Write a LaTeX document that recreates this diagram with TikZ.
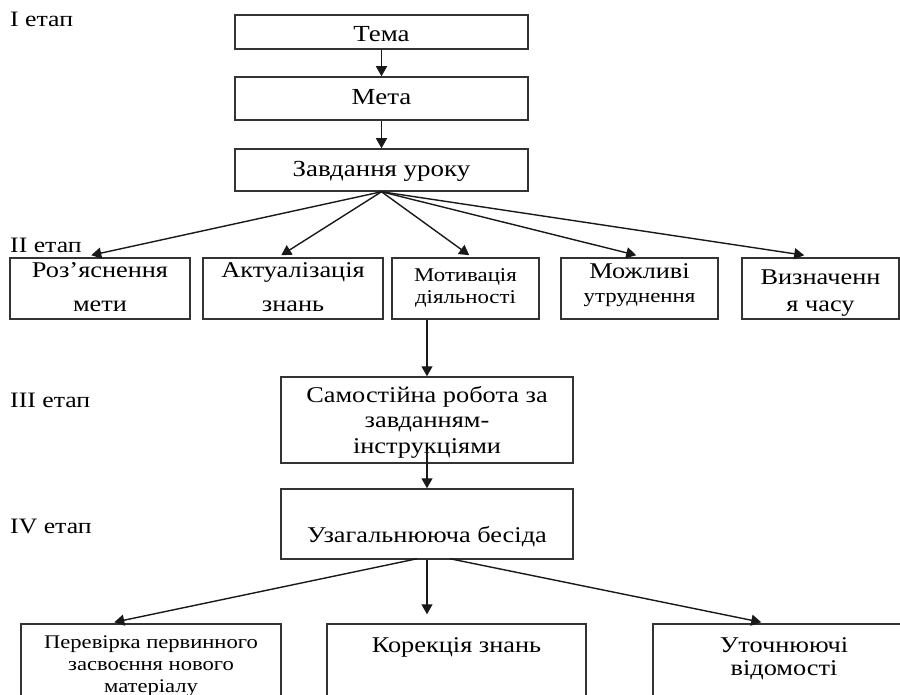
\documentclass[tikz,border=0pt]{standalone}
\usepackage{fontspec}
\setmainfont[FakeStretch=1.17]{Liberation Serif}
\usetikzlibrary{arrows.meta,calc}
\newcommand{\fs}[2]{\fontsize{#1}{#2}\selectfont}
\begin{document}
\begin{tikzpicture}[x=1pt,y=-1pt,
  box/.style={draw=black!80, line width=1.5pt, inner sep=0pt},
  txt/.style={inner sep=0pt, align=center, anchor=base},
  lab/.style={anchor=base west, inner sep=0pt, font=\fs{22}{25}},
  arr/.style={-{Triangle[length=10pt,width=11pt]}, line width=1.4pt, draw=black!90}]
\useasboundingbox (0,0) rectangle (900,695);
\clip (0,0) rectangle (900,695);

% stage labels
\node[lab] (l1) at (10,27) {I етап};
\node[lab] (l2) at (10,253) {II етап};
\node[lab] (l3) at (10,407) {III етап};
\node[lab] (l4) at (10,533) {IV етап};

% stage I
\node[box, minimum width=293, minimum height=34] (tema) at (381.5,32) {};
\node[txt, font=\fs{23}{28}] (temat) at (381.5,42) {Тема};
\node[box, minimum width=293, minimum height=43] (meta) at (381.5,98.5) {};
\node[txt, font=\fs{23}{28}] (metat) at (381.5,105) {Мета};
\node[box, minimum width=293, minimum height=42] (zav) at (381.5,170) {};
\node[txt, font=\fs{23}{28}] (zavt) at (381.5,177) {Завдання уроку};

% stage II
\node[box, minimum width=180, minimum height=61] (r1) at (100,288.5) {};
\node[txt, font=\fs{22.5}{35}] (r1t) at (100,312) {Роз’яснення\\мети};
\node[box, minimum width=180, minimum height=61] (r2) at (293,288.5) {};
\node[txt, font=\fs{22.5}{35}] (r2t) at (293,312) {Актуалізація\\знань};
\node[box, minimum width=147, minimum height=61] (r3) at (465.5,288.5) {};
\node[txt, font=\fs{19.5}{21}] (r3t) at (465.5,303) {Мотивація\\діяльності};
\node[box, minimum width=157, minimum height=61] (r4) at (639.5,288.5) {};
\node[txt, font=\fs{22.5}{24}] (r4t) at (639.5,302) {Можливі\\{\fs{19.5}{24}утруднення}};
\node[box, minimum width=157, minimum height=61] (r5) at (820.5,288.5) {};
\node[txt, font=\fs{22.5}{27}] (r5t) at (820.5,312) {Визначенн\\я часу};

% stage III
\node[box, minimum width=292, minimum height=86] (sam) at (427,420) {};
\node[txt, font=\fs{22.5}{25.5}] (samt) at (427,453) {Самостійна робота за\\завданням-\\інструкціями};

% stage IV
\node[box, minimum width=292, minimum height=70] (uza) at (427,524) {};
\node[txt, font=\fs{22.5}{26}] (uzat) at (427,542) {Узагальнююча бесіда};

% bottom boxes
\node[box, minimum width=260, minimum height=100] (b1) at (151,674) {};
\node[txt, font=\fs{19.3}{22}] (b1t) at (151,692) {Перевірка первинного\\засвоєння нового\\матеріалу};
\node[box, minimum width=259, minimum height=100] (b2) at (456.5,674) {};
\node[txt, font=\fs{22.5}{24}] (b2t) at (456.5,652) {Корекція знань};
\node[box, minimum width=262, minimum height=100] (b3) at (784,674) {};
\node[txt, font=\fs{22.5}{23}] (b3t) at (784,675) {Уточнюючі\\відомості};

% connectors stage I
\draw[arr] (tema.south) -- (meta.north);
\draw[arr] (meta.south) -- (zav.north);

% fan to stage II
\coordinate (t1) at ([xshift=82pt,yshift=2pt]r1.north west);
\coordinate (t2) at ([xshift=79pt,yshift=2pt]r2.north west);
\coordinate (t3) at ([xshift=78pt,yshift=2pt]r3.north west);
\coordinate (t4) at ([xshift=76pt,yshift=2pt]r4.north west);
\coordinate (t5) at ([xshift=63pt,yshift=2pt]r5.north west);
\foreach \t in {t1,t2,t3,t4,t5} \draw[arr] (zav.south) -- (\t);

% stage II -> III -> IV
\draw[arr] (r3.south -| sam.north) -- (sam.north);
\draw[arr] ([yshift=13pt]sam.south) -- (uza.north);

% fan to bottom
\coordinate (s1) at ([xshift=-10pt,yshift=1pt]uza.south);
\coordinate (s3) at ([xshift=23pt,yshift=1pt]uza.south);
\coordinate (e1) at ([xshift=94pt,yshift=1pt]b1.north west);
\coordinate (e2) at ([yshift=9pt]uza.south |- b2.north);
\coordinate (e3) at ([xshift=109pt,yshift=1pt]b3.north west);
\draw[arr] (s1) -- (e1);
\draw[arr] (uza.south) -- (e2);
\draw[arr] (s3) -- (e3);
\end{tikzpicture}
\end{document}
